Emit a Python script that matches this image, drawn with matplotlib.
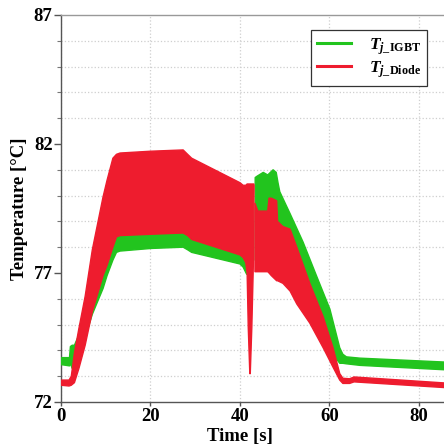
import numpy as np
import matplotlib
matplotlib.use("Agg")
import matplotlib.pyplot as plt
from matplotlib.lines import Line2D

# ---------------- data (envelopes of the fast-oscillating junction temperatures) ----------------
nan = np.nan
t_igbt = [0, 1.9, 2.1, 2.5, 3.0, 4.0, 5.4, 7.0, 9.4, 10.3, 11.6, 12.4, 13.2, 20, 27.3, 28.3, 29.2,
          40.0, 40.7, 41.5, 41.7, 43.3, 43.4, 43.8, 45.2, 46.2, 47.4, 48.1, 48.5, 48.9, 51.2, 54.1,
          57.2, 60.1, 62.3, 63.0, 63.8, 66.8, 85.6]
igbt_hi = [73.72, 73.72, 74.15, 74.2, 74.2, 74.6, 75.6, 77.0, 78.2, 78.5, 78.7, 78.75, 78.75, 78.8,
           78.85, 78.7, 78.55, 78.0, 77.9, 77.6, nan, nan, 80.7, 80.75, 80.9, 80.8, 81.0, 80.9, 80.5,
           80.15, 79.3, 78.2, 76.85, 75.6, 74.1, 73.85, 73.75, 73.7, 73.55]
igbt_lo = [73.45, 73.4, 73.5, 73.3, 73.5, 73.9, 74.5, 75.4, 76.4, 76.9, 77.5, 77.8, 77.85, 77.95,
           78.0, 77.9, 77.8, 77.35, 77.23, 76.95, nan, nan, 77.5, 77.5, 77.5, 77.5, 77.4, 77.3, 77.25,
           77.2, 76.8, 76.0, 75.0, 74.0, 73.5, 73.5, 73.48, 73.42, 73.25]

t_diode = [0, 1.8, 2.3, 3.0, 4.0, 5.4, 7.0, 9.4, 10.3, 11.6, 12.4, 13.2, 20, 27.3, 28.3, 29.2,
           40.0, 40.7, 41.3, 41.6, 41.85, 42.2, 42.3, 42.65, 43.0, 43.1, 43.15, 43.25, 43.35, 44.0,
           46.2, 46.5, 47.0, 48.2, 48.4, 49.6, 51.2, 52.7, 55.6, 58.6, 60.8, 62.3, 63.0, 64.5,
           65.5, 85.6]
diode_hi = [72.85, 72.85, 73.0, 73.9, 74.85, 76.1, 77.9, 79.95, 80.6, 81.45, 81.6, 81.65, 81.72,
            81.77, 81.6, 81.45, 80.5, 80.4, 80.4, 80.45, 80.45, 80.45, 80.45, 80.45, 80.45, 80.45,
            80.4, nan, 79.7, 79.4, 79.4, 79.9, 79.9, 79.8, 79.0, 78.8, 78.7, 78.0, 76.6, 75.3,
            74.1, 73.1, 72.92, 72.9, 72.97, 72.74]
diode_lo = [72.65, 72.62, 72.65, 72.75, 73.3, 74.2, 75.5, 76.9, 77.3, 78.0, 78.4, 78.45, 78.5,
            78.55, 78.45, 78.3, 77.7, 77.6, 77.4, 77.0, 74.9, 73.1, 73.1, 74.9, 77.4, 79.5,
            80.3, nan, 77.05, 77.05, 77.05, 77.0, 76.9, 76.7, 76.7, 76.6, 76.3, 75.8, 75.06,
            74.1, 73.35, 72.85, 72.72, 72.72, 72.78, 72.56]

x_ticks = [0, 20, 40, 60, 80]
y_ticks = [72, 77, 82, 87]
labels = [r'$T_{j\_\mathrm{IGBT}}$', r'$T_{j\_\mathrm{Diode}}$']
GREEN = '#22c41e'
RED = '#ee1c2e'

# ---------------- style ----------------
plt.rcParams['font.family'] = ['Liberation Serif', 'DejaVu Serif']
plt.rcParams['font.weight'] = 'bold'
plt.rcParams['mathtext.fontset'] = 'custom'
plt.rcParams['mathtext.rm'] = 'Liberation Serif:bold'
plt.rcParams['mathtext.it'] = 'Liberation Serif:bold:italic'
plt.rcParams['mathtext.bf'] = 'Liberation Serif:bold'

fig = plt.figure(figsize=(4.44, 4.44), dpi=100)
ax = fig.add_axes([61/444, 42/444, 383/444, 387/444])

ax.fill_between(t_igbt, igbt_lo, igbt_hi, color=GREEN, lw=1.0, edgecolor=GREEN, zorder=3)
ax.fill_between(t_diode, diode_lo, diode_hi, color=RED, lw=1.0, edgecolor=RED, zorder=4)

ax.set_xlim(0, 85.6)
ax.set_ylim(72, 87)
ax.set_xticks(x_ticks)
ax.set_yticks(y_ticks)
ax.set_yticks(np.arange(72, 88, 1), minor=True)

ax.grid(True, which='major', axis='x', color='#cfcfcf', ls=':', lw=0.9)
ax.grid(True, which='minor', axis='y', color='#cfcfcf', ls=':', lw=0.9)

for s in ['left', 'bottom', 'top']:
    ax.spines[s].set_color('#555555')
    ax.spines[s].set_linewidth(1.0)
ax.spines['top'].set_color('#999999')
ax.spines['right'].set_visible(False)

ax.tick_params(axis='y', which='major', direction='out', length=5, width=1, color='#555555',
               labelsize=13.5, pad=1)
ax.tick_params(axis='y', which='minor', direction='out', length=3, width=0.8, color='#777777')
ax.tick_params(axis='x', which='major', direction='out', length=3, width=1, color='#555555',
               labelsize=13.5, pad=1.5)
for lab in ax.get_xticklabels() + ax.get_yticklabels():
    lab.set_fontweight('bold')

ax.set_xlabel('Time [s]', fontsize=13.5, fontweight='bold')
ax.xaxis.set_label_coords((240 - 61) / 383, -0.066)
ax.set_ylabel('Temperature [°C]', fontsize=13.5, fontweight='bold')
ax.yaxis.set_label_coords(-0.085, 0.5)

handles = [Line2D([], [], color=GREEN, lw=2.2), Line2D([], [], color=RED, lw=2.2)]
leg = ax.legend(handles, labels, loc='upper right', bbox_to_anchor=(0.956, 0.961),
                borderaxespad=0, fontsize=12.5, frameon=True, fancybox=False, framealpha=1,
                edgecolor='#333333', handlelength=2.0, handletextpad=1.0, borderpad=0.35,
                labelspacing=0.15)
leg.get_frame().set_linewidth(0.9)
leg.set_zorder(10)

fig.savefig('out.png', dpi=100)
